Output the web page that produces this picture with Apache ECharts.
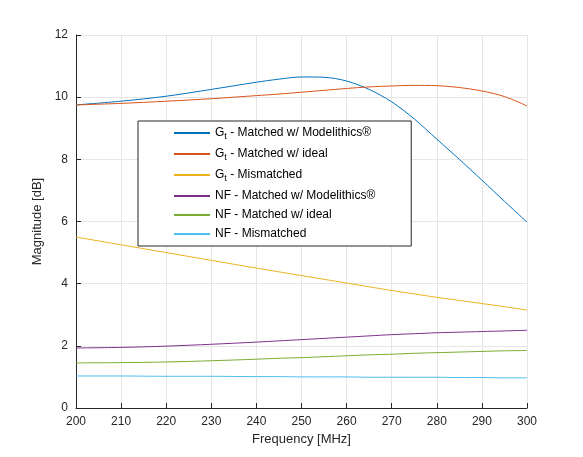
<!DOCTYPE html><html><head><script src="https://cdn.jsdelivr.net/npm/echarts@6/dist/echarts.min.js"></script></head><body style="margin:0;background:#fff"><div id="c" style="width:583px;height:457px"></div><script>
const freq=[200,210,220,230,240,245,250,255,260,265,270,275,280,285,290,295,300];
const gtModel=[9.75,9.87,10.03,10.25,10.48,10.58,10.65,10.64,10.52,10.25,9.85,9.3,8.65,8.0,7.33,6.65,5.98];
const gtIdeal=[9.75,9.8,9.87,9.95,10.05,10.1,10.16,10.22,10.28,10.33,10.36,10.38,10.37,10.31,10.2,10.02,9.72];
const gtMis=[5.5,5.25,5.0,4.75,4.5,4.38,4.26,4.14,4.02,3.9,3.78,3.67,3.56,3.46,3.36,3.26,3.15];
const nfModel=[1.93,1.95,1.99,2.05,2.12,2.16,2.2,2.24,2.28,2.32,2.36,2.39,2.42,2.44,2.46,2.48,2.5];
const nfIdeal=[1.45,1.46,1.48,1.52,1.57,1.6,1.62,1.65,1.68,1.71,1.73,1.76,1.78,1.8,1.82,1.84,1.85];
const nfMis=[1.03,1.03,1.02,1.02,1.01,1.01,1.0,1.0,1.0,0.99,0.99,0.99,0.99,0.98,0.98,0.97,0.97];
const names=['Gt - Matched w/ Modelithics®','Gt - Matched w/ ideal','Gt - Mismatched','NF - Matched w/ Modelithics®','NF - Matched w/ ideal','NF - Mismatched'];
const cols=['#0072BD','#D95319','#EDB120','#7E2F8E','#77AC30','#4DBEEE'];
const data=[gtModel,gtIdeal,gtMis,nfModel,nfIdeal,nfMis];
const ax={type:'value',axisLine:{lineStyle:{color:'#262626'}},axisTick:{inside:true,lineStyle:{color:'#262626'}},axisLabel:{color:'#262626',fontSize:12,fontFamily:'Arial'},splitLine:{lineStyle:{color:'#e6e6e6'}},nameLocation:'middle',nameTextStyle:{color:'#262626',fontSize:13,fontFamily:'Arial'}};
echarts.init(document.getElementById('c')).setOption({
animation:false,
grid:{left:76,right:56,top:35,bottom:49},
xAxis:Object.assign({},ax,{min:200,max:300,interval:10,name:'Frequency [MHz]',nameGap:22}),
yAxis:Object.assign({},ax,{min:0,max:12,interval:2,name:'Magnitude [dB]',nameGap:26}),
legend:{orient:'vertical',left:138,top:121,padding:[6,36,6,36],itemGap:7,itemWidth:36,itemHeight:2,icon:'rect',backgroundColor:'#fff',borderColor:'#262626',borderWidth:1,borderRadius:0,
 textStyle:{fontFamily:'Arial',fontSize:12,color:'#000',rich:{s:{fontSize:9,verticalAlign:'bottom',padding:[7,0,0,0]}}},
 formatter:n=>n.startsWith('Gt')?'G{s|t}'+n.slice(2):n,data:names},
series:names.map((n,i)=>({name:n,type:'line',showSymbol:false,smooth:0.3,color:cols[i],lineStyle:{width:1},data:freq.map((f,j)=>[f,data[i][j]])}))
});
</script></body></html>
